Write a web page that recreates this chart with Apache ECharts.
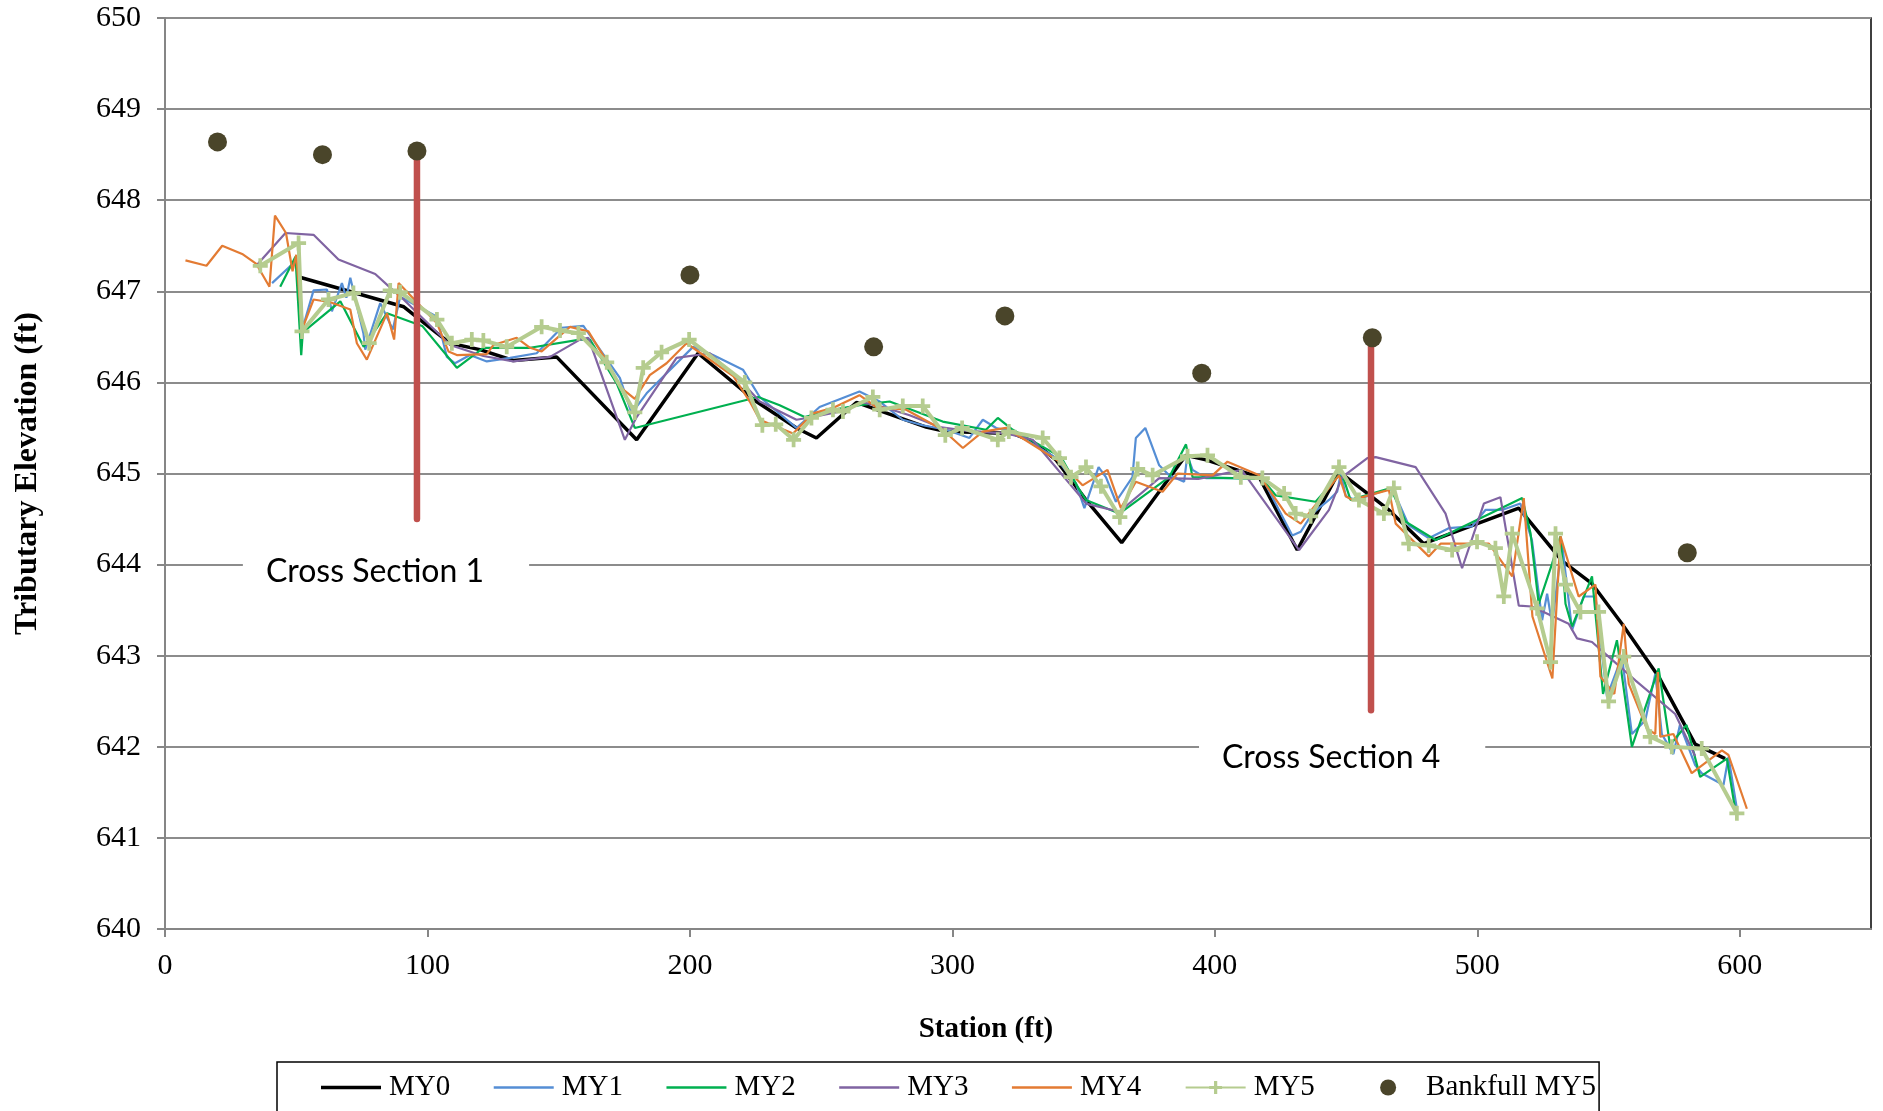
<!DOCTYPE html>
<html>
<head>
<meta charset="utf-8">
<script src="https://cdn.jsdelivr.net/npm/echarts@6/dist/echarts.min.js"></script>
<style>
html,body{margin:0;padding:0;background:#fff;}
#chart{width:1883px;height:1111px;}
</style>
</head>
<body>
<div id="chart"></div>
<script>
// ---- data: [station (ft), elevation (ft)] ----
var my0 = [[50.7,647.16],[91,646.83],[103.6,646.54],[108.6,646.43],[120,646.36],[132.7,646.24],[149.2,646.28],[179.7,645.37],[203.1,646.32],[225.3,645.79],[240.6,645.5],[248.2,645.39],[263.4,645.78],[290,645.51],[297.6,645.46],[323,645.44],[330.6,645.35],[339.5,645.15],[350.9,644.71],[364.5,644.24],[389,645.2],[396.6,645.15],[416.9,644.96],[431.4,644.16],[447.3,645.02],[466.3,644.6],[479.6,644.23],[515.8,644.62],[532.3,644.04],[543.7,643.79],[555.1,643.35],[569.1,642.77],[583,642.03],[594.4,641.87]];

var my1 = [[40.8,647.09],[49,647.31],[51,647.25],[52.5,646.6],[56.6,647.01],[61.7,647.02],[63.6,646.78],[67.4,647.09],[69.1,646.93],[70.6,647.15],[75.6,646.54],[76.3,646.36],[82,646.87],[86.8,646.58],[89.6,646.94],[103.6,646.72],[107.4,646.28],[110.5,646.21],[116.2,646.3],[122.6,646.23],[131.5,646.27],[141.6,646.32],[151.1,646.6],[159.4,646.62],[173.3,646.05],[177.8,645.66],[183.5,645.88],[201.2,646.39],[208.8,646.3],[220.2,646.14],[226.6,645.84],[240.6,645.5],[249.4,645.73],[264.6,645.9],[272.3,645.79],[281.1,645.59],[288.7,645.53],[297.6,645.48],[306.5,645.39],[311.6,645.59],[316.7,645.5],[323,645.46],[339.5,645.17],[347.1,644.89],[350.3,644.62],[355.7,645.07],[358.5,644.96],[362.3,644.69],[368.6,644.96],[369.9,645.39],[373.5,645.5],[378.8,645.09],[382.6,644.98],[388.3,644.91],[389.5,645.2],[391.5,645.04],[396.6,644.95],[418.1,644.95],[429.5,644.32],[432.7,644.36],[437.1,644.56],[443.5,644.71],[446.6,644.8],[448,645.0],[449.9,644.75],[453.6,644.71],[467.6,644.84],[473.9,644.43],[481.5,644.29],[489.1,644.4],[498,644.42],[503.1,644.6],[509.4,644.6],[516.4,644.67],[520.8,644.27],[524.7,643.39],[526.6,643.68],[528.5,643.35],[532.3,644.23],[536.1,643.28],[540.5,643.65],[545,643.65],[549.4,642.55],[555.1,642.99],[558.9,642.14],[564,642.29],[567.8,642.8],[570.3,642.14],[574.7,641.92],[577.2,642.24],[583,641.8],[585.5,641.71],[593.8,641.58],[595.7,641.89],[598.9,641.32]];

var my2 = [[43.9,647.05],[49.7,647.38],[51.9,646.3],[52.5,646.55],[66.8,646.89],[75.7,646.39],[84.6,646.76],[98,646.62],[111.2,646.16],[121.3,646.38],[139.1,646.38],[158.1,646.47],[161.9,646.47],[172.1,645.99],[179,645.5],[226,645.84],[234.2,645.75],[243.7,645.62],[254.5,645.7],[264.6,645.75],[276.1,645.79],[296.3,645.57],[312.8,645.48],[317.3,645.61],[323,645.48],[341.4,645.18],[348.4,644.82],[350.9,644.71],[363.6,644.56],[382.6,644.96],[389,645.32],[391.5,644.96],[418.1,644.94],[423.2,644.76],[438.4,644.69],[447.3,644.98],[449.2,644.93],[451.7,644.71],[467,644.84],[472.7,644.47],[484.1,644.27],[517.1,644.73],[520.3,644.34],[523.4,643.57],[528.5,644.01],[531.7,644.31],[533.6,643.57],[536.1,643.32],[543.7,643.87],[547.9,642.58],[553.2,643.17],[558.9,642.0],[569.1,642.86],[573.4,642.02],[579.7,642.24],[584.9,641.67],[595.1,641.87],[598.2,641.32]];

var my3 = [[34.4,647.27],[45.9,647.64],[56.6,647.62],[66.1,647.35],[80.1,647.19],[85.8,647.04],[90.9,646.91],[108.6,646.41],[121.3,646.29],[132.7,646.23],[146.7,646.28],[158.1,646.47],[161.3,646.49],[175.2,645.37],[179.7,645.62],[194.9,646.27],[207.6,646.32],[220.2,645.99],[226.6,645.79],[240.6,645.59],[246.9,645.62],[257,645.68],[265.9,645.78],[273.5,645.73],[283.7,645.64],[295.1,645.51],[307.8,645.46],[320.5,645.44],[330.6,645.37],[348.4,644.76],[350.9,644.67],[363.6,644.58],[378.8,644.95],[393.7,644.94],[410.2,645.04],[432.1,644.16],[443.5,644.6],[448.5,644.96],[458.1,645.17],[461.3,645.18],[476.5,645.07],[487.9,644.56],[494.2,643.96],[502.5,644.67],[508.8,644.74],[515.8,643.55],[520.8,643.54],[534.8,643.35],[538,643.19],[543.7,643.15],[548.8,643.02],[560.2,642.73],[575.4,642.36],[583,641.9]];

var my4 = [[7.8,647.34],[15.8,647.28],[21.8,647.5],[29.4,647.41],[34.8,647.3],[39.8,647.05],[41.9,647.83],[46.1,647.64],[48.6,647.22],[50,647.4],[52.2,646.58],[56.6,646.91],[63,646.88],[70.6,646.8],[73.1,646.43],[76.9,646.25],[84.6,646.76],[87.3,646.47],[89,647.09],[92,647.0],[103.6,646.65],[108,646.34],[111.2,646.3],[122.6,646.31],[125.1,646.41],[134,646.49],[139.1,646.38],[143.5,646.34],[154.3,646.61],[161.3,646.56],[168.3,646.23],[173.3,645.95],[179,645.82],[184.7,646.08],[191.1,646.21],[198.7,646.43],[216.5,646.07],[222.8,645.79],[226.6,645.59],[239.3,645.44],[246.9,645.66],[254.5,645.72],[264.6,645.86],[271,645.73],[282.4,645.7],[296.3,645.48],[304,645.28],[311.6,645.46],[320.5,645.5],[340.8,645.13],[349.6,644.87],[359.1,645.04],[364.2,644.62],[369.9,644.91],[380.1,644.8],[385.8,645.0],[399.1,644.98],[404.8,645.13],[416.9,644.98],[427,644.56],[432.7,644.45],[447.3,644.98],[449.9,644.75],[452.4,644.71],[466.3,644.82],[468.9,644.45],[481.5,644.09],[486,644.23],[504.4,644.23],[513.3,643.87],[517.7,644.73],[521,643.43],[528.6,642.75],[531.7,644.31],[538.6,643.65],[545,643.78],[546.9,642.77],[552.2,642.58],[555.8,643.35],[557.7,642.69],[564.6,642.2],[567.8,642.14],[568.8,642.82],[569.7,642.11],[574.7,642.14],[581.7,641.71],[593.2,641.96],[595.7,641.91],[602.7,641.32]];

var my5 = [[36.3,647.28],[50.9,647.53],[52.2,646.56],[62.3,646.91],[71.8,646.98],[77.8,646.43],[85.8,647.01],[89.6,646.99],[103.6,646.69],[109.3,646.43],[116.9,646.47],[121.3,646.46],[130.2,646.39],[143.5,646.61],[150.5,646.57],[157.5,646.54],[168.3,646.22],[179,645.67],[182.2,646.16],[189.2,646.33],[199.7,646.47],[220.9,646.0],[227.6,645.53],[232.7,645.54],[239.5,645.37],[246.3,645.61],[254.5,645.7],[258.3,645.68],[269.7,645.84],[272.3,645.7],[281.1,645.74],[288.7,645.74],[297.3,645.42],[303.7,645.5],[317.3,645.37],[321.5,645.46],[334.4,645.39],[340.8,645.17],[345.2,644.96],[350.9,645.07],[356.6,644.86],[363.8,644.52],[370.6,645.05],[376.3,644.98],[389.6,645.19],[397.2,645.2],[409.9,644.96],[418.1,644.95],[426.4,644.78],[430.8,644.56],[436.5,644.53],[447.3,645.07],[454.9,644.71],[464.4,644.56],[468.2,644.84],[473.9,644.23],[481.5,644.21],[490.4,644.16],[499.9,644.25],[506.9,644.18],[510.1,643.65],[513.3,644.34],[522.8,643.52],[527.9,642.93],[529.8,644.34],[533.6,643.78],[539.3,643.48],[546.2,643.48],[550,642.5],[555.8,642.99],[565.9,642.11],[574.1,642.0],[585.5,641.98],[598.9,641.27]];

var bankfull = [[20,648.64],[60,648.5],[96,648.54],[200,647.18],[270,646.39],[320,646.73],[395,646.1],[460,646.49],[580,644.13]];

var xs1Line = [[96,648.54],[96,644.5]];
var xs4Line = [[459.5,646.49],[459.5,642.4]];
var xsLabelStations = [84.2, 448.5];
var xsLabelElevs = [643.92, 641.88];
var xsLabelTexts = ['Cross Section 1', 'Cross Section 4'];

var xTicks = [0,100,200,300,400,500,600];
var yTicks = [640,641,642,643,644,645,646,647,648,649,650];
var legendNames = ['MY0','MY1','MY2','MY3','MY4','MY5','Bankfull MY5'];

// ---- chart ----
var chart = echarts.init(document.getElementById('chart'), null, {renderer:'canvas'});
var serif = '"Liberation Serif","Times New Roman",serif';
var plus = 'path://M3,0H5V3H8V5H5V8H3V5H0V3H3Z';
function lineIcon(t){
  var a = (16 - t) / 2, b = a + t;
  return 'path://M0,0H1V0.01H0Z M0,' + a + 'H60V' + b + 'H0Z M59,15.99H60V16H59Z';
}

function lineSeries(name, data, color, width){
  return {name:name, type:'line', data:data, symbol:'none', showSymbol:false,
    lineStyle:{color:color, width:width}, itemStyle:{color:color}, z:2, animation:false};
}

var labelData = xsLabelTexts.map(function(t, i){ return {value:[xsLabelStations[i], xsLabelElevs[i]], name:t}; });

var option = {
  animation:false,
  backgroundColor:'#fff',
  grid:{left:165, right:12, top:18, bottom:182, show:true, borderColor:'#000', borderWidth:1.5, backgroundColor:'transparent'},
  xAxis:{type:'value', min:xTicks[0], max:650, interval:100,
    name:'Station (ft)', nameLocation:'middle', nameGap:86,
    nameTextStyle:{fontFamily:serif, fontSize:29, fontWeight:'bold', color:'#000', padding:[0,64,0,0]},
    axisLine:{show:true, onZero:false, lineStyle:{color:'#868686', width:2}},
    axisTick:{show:true, length:8, lineStyle:{color:'#868686', width:2}},
    axisLabel:{fontFamily:serif, fontSize:30, color:'#000', margin:22, showMaxLabel:false},
    splitLine:{show:false}},
  yAxis:{type:'value', min:yTicks[0], max:yTicks[yTicks.length-1], interval:1,
    name:'Tributary Elevation (ft)', nameLocation:'middle', nameGap:121, nameRotate:90,
    nameTextStyle:{fontFamily:serif, fontSize:32, fontWeight:'bold', color:'#000'},
    axisLine:{show:true, onZero:false, lineStyle:{color:'#868686', width:2}},
    axisTick:{show:true, length:8, lineStyle:{color:'#868686', width:2}},
    axisLabel:{fontFamily:serif, fontSize:30, color:'#000', margin:24},
    splitLine:{show:true, lineStyle:{color:'#8c8c8c', width:2.2}}},
  legend:{
    data:[
      {name:legendNames[0], icon:lineIcon(3.5), itemStyle:{color:'#000000'}},
      {name:legendNames[1], icon:lineIcon(2.4), itemStyle:{color:'#558ED5'}},
      {name:legendNames[2], icon:lineIcon(2.4), itemStyle:{color:'#00B050'}},
      {name:legendNames[3], icon:lineIcon(2.4), itemStyle:{color:'#8064A2'}},
      {name:legendNames[4], icon:lineIcon(2.4), itemStyle:{color:'#E37B33'}},
      {name:legendNames[5]},
      {name:legendNames[6], icon:'circle'}
    ],
    formatter:function(name){ return name === legendNames[5] ? name + '\u00a0\u00a0\u00a0' : name; },
    left:277, top:1062, orient:'horizontal',
    borderColor:'#000', borderWidth:1.5, backgroundColor:'#fff',
    padding:[11,3,10,44], itemGap:43.5, itemWidth:60, itemHeight:16,
    textStyle:{fontFamily:serif, fontSize:29, color:'#000', padding:[0,0,0,3]}
  },
  series:[
    lineSeries('MY0', my0, '#000000', 3.5),
    lineSeries('MY1', my1, '#558ED5', 2.2),
    lineSeries('MY2', my2, '#00B050', 2.2),
    lineSeries('MY3', my3, '#8064A2', 2.2),
    lineSeries('MY4', my4, '#E37B33', 2.2),
    {name:'MY5', type:'line', data:my5, symbol:plus, symbolSize:15, showSymbol:true,
      lineStyle:{color:'#B5CC8F', width:4}, itemStyle:{color:'#B5CC8F'}, z:3, animation:false},
    {name:'xs1', type:'line', data:xs1Line, symbol:'none', lineStyle:{color:'#C0504D', width:6.5, cap:'round'}, z:4, silent:true},
    {name:'xs4', type:'line', data:xs4Line, symbol:'none', lineStyle:{color:'#C0504D', width:6.5, cap:'round'}, z:4, silent:true},
    {name:'Bankfull MY5', type:'scatter', data:bankfull, symbol:'circle', symbolSize:19,
      itemStyle:{color:'#4A452A', opacity:1}, z:5},
    {name:'labels', type:'scatter', data:labelData,
      symbolSize:1, itemStyle:{color:'rgba(255,255,255,0)'}, z:6, silent:true,
      label:{show:true, position:'inside', formatter:function(p){return p.name;},
        fontFamily:'Lato, "Open Sans", sans-serif', fontSize:32, color:'#000000', opacity:1,
        backgroundColor:'#ffffff', padding:[6,45,6,23]}}
  ]
};
chart.setOption(option);
</script>
</body>
</html>
